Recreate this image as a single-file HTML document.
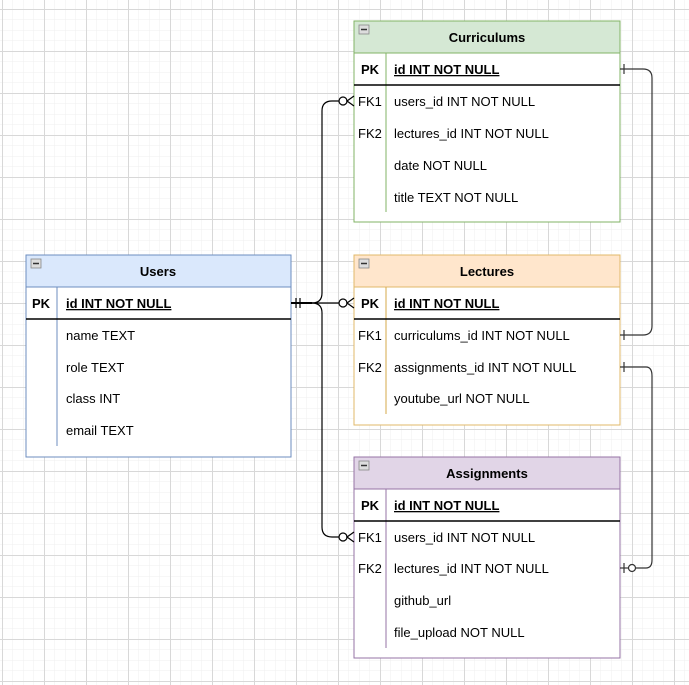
<!DOCTYPE html>
<html><head><meta charset="utf-8"><style>
html,body{margin:0;padding:0;background:#fff}
svg{display:block;font-family:"Liberation Sans",Arial,sans-serif;font-size:13px}
</style></head><body>
<svg width="689" height="685" viewBox="0 0 689 685" xmlns="http://www.w3.org/2000/svg">
<defs>
<pattern id="minor" x="2" y="9" width="10.5" height="10.5" patternUnits="userSpaceOnUse">
<path d="M0 0H10.5M0 0V10.5" stroke="#efefef" stroke-width="1" fill="none"/>
</pattern>
<pattern id="major" x="2" y="9" width="42" height="42" patternUnits="userSpaceOnUse">
<path d="M0 0.5H42M0.5 0V42" stroke="#d8d8d8" stroke-width="1" fill="none"/>
</pattern>
</defs>
<rect width="689" height="685" fill="url(#minor)"/>
<rect width="689" height="685" fill="url(#major)"/>

<!-- Users -->
<g>
<rect x="26" y="255" width="265" height="202" fill="#fff" stroke="#6c8ebf"/>
<rect x="26" y="255" width="265" height="32" fill="#dae8fc" stroke="#6c8ebf"/>
<rect x="31" y="259" width="10" height="9" fill="#ddd" stroke="#888" stroke-width="0.8"/><line x1="33" y1="263.5" x2="39" y2="263.5" stroke="#333" stroke-width="1.5"/>
<text x="158" y="276" text-anchor="middle" font-weight="bold">Users</text>
<line x1="57" y1="287" x2="57" y2="446" stroke="#6c8ebf"/>
<line x1="26" y1="319" x2="291" y2="319" stroke="#000" stroke-width="1.5"/>
<text x="32" y="308" font-weight="bold">PK</text>
<text x="66" y="308" font-weight="bold" text-decoration="underline">id INT NOT NULL</text>
<text x="66" y="340">name TEXT</text>
<text x="66" y="372">role TEXT</text>
<text x="66" y="403">class INT</text>
<text x="66" y="435">email TEXT</text>
</g>

<!-- Curriculums -->
<g>
<rect x="354" y="21" width="266" height="201" fill="#fff" stroke="#82b366"/>
<rect x="354" y="21" width="266" height="32" fill="#d5e8d4" stroke="#82b366"/>
<rect x="359" y="25" width="10" height="9" fill="#ddd" stroke="#888" stroke-width="0.8"/><line x1="361" y1="29.5" x2="367" y2="29.5" stroke="#333" stroke-width="1.5"/>
<text x="487" y="42" text-anchor="middle" font-weight="bold">Curriculums</text>
<line x1="386" y1="53" x2="386" y2="212" stroke="#82b366"/>
<line x1="354" y1="85" x2="620" y2="85" stroke="#000" stroke-width="1.5"/>
<text x="361" y="74" font-weight="bold">PK</text>
<text x="394" y="74" font-weight="bold" text-decoration="underline">id INT NOT NULL</text>
<text x="358" y="106">FK1</text><text x="394" y="106">users_id INT NOT NULL</text>
<text x="358" y="138">FK2</text><text x="394" y="138">lectures_id INT NOT NULL</text>
<text x="394" y="170">date NOT NULL</text>
<text x="394" y="202">title TEXT NOT NULL</text>
</g>

<!-- Lectures -->
<g>
<rect x="354" y="255" width="266" height="170" fill="#fff" stroke="#e0b86a"/>
<rect x="354" y="255" width="266" height="32" fill="#ffe6cc" stroke="#e0b86a"/>
<rect x="359" y="259" width="10" height="9" fill="#ddd" stroke="#888" stroke-width="0.8"/><line x1="361" y1="263.5" x2="367" y2="263.5" stroke="#333" stroke-width="1.5"/>
<text x="487" y="276" text-anchor="middle" font-weight="bold">Lectures</text>
<line x1="386" y1="287" x2="386" y2="414" stroke="#d6a84a"/>
<line x1="354" y1="319" x2="620" y2="319" stroke="#000" stroke-width="1.5"/>
<text x="361" y="308" font-weight="bold">PK</text>
<text x="394" y="308" font-weight="bold" text-decoration="underline">id INT NOT NULL</text>
<text x="358" y="340">FK1</text><text x="394" y="340">curriculums_id INT NOT NULL</text>
<text x="358" y="372">FK2</text><text x="394" y="372">assignments_id INT NOT NULL</text>
<text x="394" y="403">youtube_url NOT NULL</text>
</g>

<!-- Assignments -->
<g>
<rect x="354" y="457" width="266" height="201" fill="#fff" stroke="#9673a6"/>
<rect x="354" y="457" width="266" height="32" fill="#e1d5e7" stroke="#9673a6"/>
<rect x="359" y="461" width="10" height="9" fill="#ddd" stroke="#888" stroke-width="0.8"/><line x1="361" y1="465.5" x2="367" y2="465.5" stroke="#333" stroke-width="1.5"/>
<text x="487" y="478" text-anchor="middle" font-weight="bold">Assignments</text>
<line x1="386" y1="489" x2="386" y2="648" stroke="#9673a6"/>
<line x1="354" y1="521" x2="620" y2="521" stroke="#000" stroke-width="1.5"/>
<text x="361" y="510" font-weight="bold">PK</text>
<text x="394" y="510" font-weight="bold" text-decoration="underline">id INT NOT NULL</text>
<text x="358" y="542">FK1</text><text x="394" y="542">users_id INT NOT NULL</text>
<text x="358" y="573">FK2</text><text x="394" y="573">lectures_id INT NOT NULL</text>
<text x="394" y="605">github_url</text>
<text x="394" y="637">file_upload NOT NULL</text>
</g>

<!-- connectors from Users -->
<g fill="none" stroke="#000" stroke-width="1.2">
<path d="M291 303H312Q322 303 322 293V111Q322 101 332 101H339"/>
<path d="M312 303Q322 303 322 313V527Q322 537 332 537H339"/>
<path d="M312 303H339"/>
<line x1="291" y1="303" x2="312" y2="303" stroke-width="2"/>
<line x1="296" y1="298" x2="296" y2="308"/><line x1="300" y1="298" x2="300" y2="308"/>
<circle cx="343" cy="101" r="4" fill="#fff"/><path d="M354 96L347 101L354 106"/>
<circle cx="343" cy="303" r="4" fill="#fff"/><path d="M354 298L347 303L354 308"/>
<circle cx="343" cy="537" r="4" fill="#fff"/><path d="M354 532L347 537L354 542"/>
</g>
<!-- right connectors -->
<g fill="none" stroke="#333" stroke-width="1.2">
<path d="M620 69H643Q652 69 652 78V326Q652 335 643 335H620"/>
<line x1="624" y1="64" x2="624" y2="74"/><line x1="624" y1="330" x2="624" y2="340"/>
<path d="M620 367H646Q652 367 652 376V560Q652 568 646 568H636"/>
<line x1="624" y1="362" x2="624" y2="372"/>
<line x1="620" y1="568" x2="628" y2="568"/><line x1="624" y1="563" x2="624" y2="573"/>
<circle cx="632" cy="568" r="3.5" fill="#fff"/>
</g>
</svg>
</body></html>
